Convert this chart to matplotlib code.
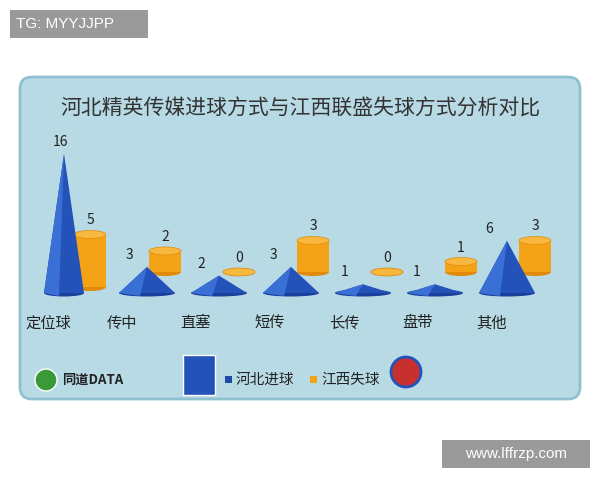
import matplotlib
matplotlib.use("Agg")
import matplotlib.pyplot as plt
from matplotlib.patches import Polygon, Ellipse, FancyBboxPatch, Rectangle, Circle

plt.rcParams['font.family'] = ['Noto Sans CJK SC', 'DejaVu Sans']

categories = ["定位球", "传中", "直塞", "短传", "长传", "盘带", "其他"]
hebei_goals = [16, 3, 2, 3, 1, 1, 6]
jiangxi_conceded = [5, 2, 0, 3, 0, 1, 3]
title = "河北精英传媒进球方式与江西联盛失球方式分析对比"

fig = plt.figure(figsize=(6, 4.8), dpi=100)
ax = fig.add_axes([0, 0, 1, 1])
ax.set_xlim(0, 600); ax.set_ylim(480, 0); ax.axis('off')

ax.add_patch(FancyBboxPatch((20, 77), 560, 322, boxstyle="round,pad=0,rounding_size=12",
                            fc="#b7dae5", ec="#8fc1d3", lw=2))
ax.text(300, 109, title, ha='center', va='center', fontsize=15, color='#333333')

# watermarks
ax.add_patch(Rectangle((10, 10), 138, 28, fc='#9a9a9a', ec='none'))
ax.text(16, 24, "TG: MYYJJPP", ha='left', va='center', fontsize=11, color='white',
        family='Liberation Sans')
ax.add_patch(Rectangle((442, 440), 148, 28, fc='#9a9a9a', ec='none'))
ax.text(516, 454, "www.lffrzp.com", ha='center', va='center', fontsize=11, color='white',
        family='Liberation Sans')

cone_k, cyl_k = 8.7, 10.5
for i, (c, a, b) in enumerate(zip(categories, hebei_goals, jiangxi_conceded)):
    # cylinder (behind)
    cx = 91 + 74 * i if i else 90
    base = 287 if i == 0 else 272
    w = 32
    h = b * cyl_k
    top = base - h
    ax.add_patch(Rectangle((cx - w/2, top), w, h, fc='#f5a316', ec='none', zorder=2))
    ax.add_patch(Ellipse((cx, base), w, 8, fc='#e08a08', ec='none', zorder=1.9))
    ax.add_patch(Ellipse((cx, top), w, 8, fc='#f8b840', ec='#e08a08', lw=0.5, zorder=2.1))
    ax.text(cx, top - 14, str(b), ha='center', va='center', fontsize=10, color='#222222', zorder=5)
    # cone
    kx = 75 + 72 * i if i else 64
    cw = 40 if i == 0 else 56
    cbase = 293
    apex = cbase - a * cone_k
    ax.add_patch(Ellipse((kx, cbase), cw, 7, fc='#1a3f9c', ec='none', zorder=3))
    ax.add_patch(Polygon([(kx - cw/2, cbase), (kx, apex), (kx + cw/2, cbase)], closed=True,
                         fc='#2352b8', ec='none', zorder=3.1))
    ax.add_patch(Polygon([(kx - cw/2, cbase), (kx, apex), (kx - cw/8, cbase + 3)], closed=True,
                         fc='#3a6fd6', ec='none', zorder=3.2))
    ax.text(kx - 4 if i == 0 else kx - 18, apex - 12, str(a), ha='center', va='center',
            fontsize=10, color='#222222', zorder=5)
    ax.text(48 + 74 * i, 323, c, ha='center', va='center', fontsize=11, color='#222222')

# bottom legend & logos
ax.add_patch(Circle((46, 380), 11, fc='#3a9a3a', ec='white', lw=1))
ax.text(62, 380, "同道DATA", ha='left', va='center', fontsize=9.5, fontweight='bold', color='#222222')
ax.add_patch(Rectangle((183, 355), 32, 40, fc='#2352b8', ec='white', lw=1))
ax.add_patch(Rectangle((225, 376), 7, 7, fc='#1f4aa8'))
ax.text(236, 380, "河北进球", ha='left', va='center', fontsize=10.5, color='#222222')
ax.add_patch(Rectangle((310, 376), 7, 7, fc='#f5a316'))
ax.text(321, 380, "江西失球", ha='left', va='center', fontsize=10.5, color='#222222')
ax.add_patch(Circle((406, 372), 15, fc='#c83030', ec='#2352b8', lw=2))

fig.savefig("out.png", dpi=100)
